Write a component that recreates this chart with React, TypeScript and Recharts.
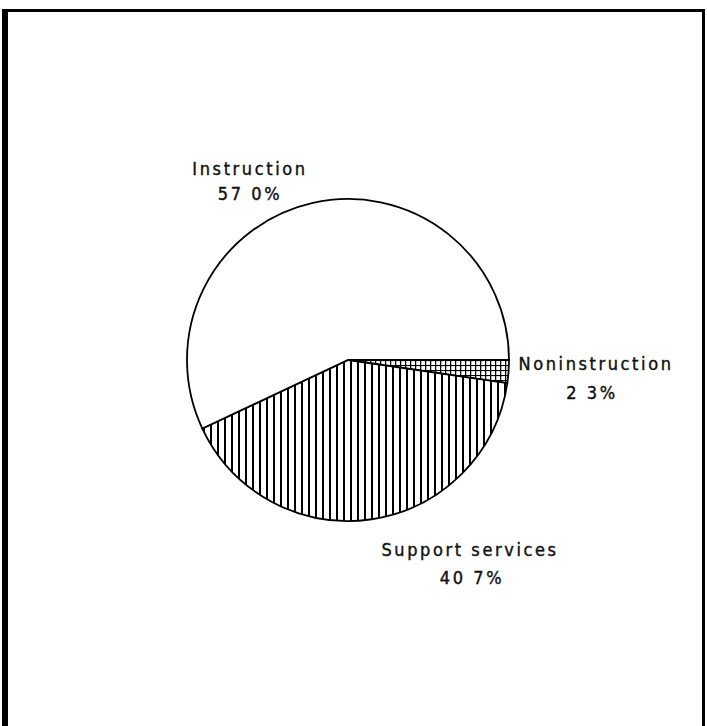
import { PieChart, Pie, Cell } from 'recharts'

const categories = ['Noninstruction', 'Support services', 'Instruction']
const shares = [2.3, 40.7, 57.0]
const shareLabels = ['2 3%', '40 7%', '57 0%']

const data = categories.map((name, i) => ({ name, value: shares[i], pct: shareLabels[i] }))

const fills = ['url(#grid)', 'url(#vlines)', '#ffffff']

// label offsets from the pie centre, first line / second line
const labelSpots: Record<string, { x: number; y1: number; y2: number; x2: number }> = {
  Noninstruction: { x: 248, y1: 3, x2: 244, y2: 32 },
  'Support services': { x: 122, y1: 189, x2: 124, y2: 217 },
  Instruction: { x: -98, y1: -192, x2: -98, y2: -167 }
}

const font = '"DejaVu Sans Condensed", "Liberation Sans Narrow", "DejaVu Sans", sans-serif'

function renderLabel(props: any) {
  const { cx, cy, payload } = props
  const spot = labelSpots[payload.name]
  if (!spot) return null
  const common = {
    textAnchor: 'middle' as const,
    dominantBaseline: 'central' as const,
    fill: '#111',
    stroke: '#111',
    strokeWidth: 0.4,
    fontSize: 18,
    fontFamily: font,
    letterSpacing: 2.6
  }
  return (
    <g>
      <text x={cx + spot.x} y={cy + spot.y1} {...common}>
        {payload.name}
      </text>
      <text x={cx + spot.x2} y={cy + spot.y2} {...common}>
        {payload.pct}
      </text>
    </g>
  )
}

export default function App() {
  return (
    <div style={{ position: 'absolute', left: 0, top: 0, width: 707, height: 726, background: '#fff' }}>
      {/* scanned page frame */}
      <div style={{ position: 'absolute', left: 2, top: 9, width: 6, height: 717, background: '#000' }} />
      <div style={{ position: 'absolute', left: 2, top: 9, width: 703, height: 3, background: '#000' }} />
      <div style={{ position: 'absolute', left: 702, top: 9, width: 3, height: 717, background: '#000' }} />
      <PieChart
        width={707}
        height={726}
        margin={{ top: 0, right: 0, bottom: 0, left: 0 }}
        style={{ position: 'absolute', left: 0, top: 0 }}
      >
        <defs>
          <pattern id="vlines" width={7} height={10} patternUnits="userSpaceOnUse">
            <rect width={7} height={10} fill="#fff" />
            <line x1={1} y1={0} x2={1} y2={10} stroke="#000" strokeWidth={2} />
          </pattern>
          <pattern id="grid" width={5} height={5} patternUnits="userSpaceOnUse">
            <rect width={5} height={5} fill="#fff" />
            <line x1={0} y1={0.5} x2={5} y2={0.5} stroke="#000" strokeWidth={1.2} />
            <line x1={0.5} y1={0} x2={0.5} y2={5} stroke="#000" strokeWidth={1.5} />
          </pattern>
        </defs>
        <Pie
          data={data}
          dataKey="value"
          nameKey="name"
          cx={348}
          cy={360}
          outerRadius={161}
          startAngle={0}
          endAngle={-360}
          stroke="#000"
          strokeWidth={1.8}
          label={renderLabel}
          labelLine={false}
          isAnimationActive={false}
        >
          {data.map((d, i) => (
            <Cell key={d.name} fill={fills[i]} />
          ))}
        </Pie>
      </PieChart>
    </div>
  )
}
